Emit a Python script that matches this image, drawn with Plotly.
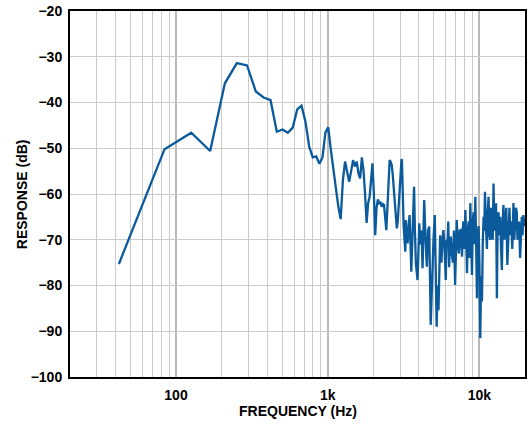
import plotly.graph_objects as go

# ---- data ----
low_freq_hz = [42, 84, 126, 168, 210, 252, 294, 336, 378, 420, 462, 504, 546, 588,
               630, 672, 714, 756, 798, 840, 882, 924, 966, 1008, 1050, 1092, 1134,
               1176, 1218, 1260, 1302]
low_db = [-75.3, -50.2, -46.6, -50.6, -35.8, -31.4, -31.9, -37.6, -38.9, -39.5, -46.4,
          -45.9, -46.6, -45.5, -41.5, -40.7, -44.2, -49.7, -52.0, -51.8, -53.4, -52.0,
          -46.6, -45.4, -50.4, -55.0, -59.8, -62.8, -65.5, -57.0, -52.9]

mid_freq_hz = [1344, 1386, 1428, 1470, 1512, 1554, 1596, 1638, 1680, 1722, 1764, 1806,
               1848, 1890, 1932, 1974, 2016, 2058, 2100, 2142, 2184, 2226, 2268, 2310,
               2352, 2394, 2436, 2478, 2520, 2562, 2604, 2646, 2688, 2730, 2772, 2814,
               2856, 2898, 2940, 2982, 3024, 3066]
mid_db = [-55.5, -57.3, -55.0, -52.6, -54.0, -52.9, -55.5, -56.6, -52.0, -54.8, -60.0,
          -66.3, -62.0, -60.6, -57.0, -53.3, -60.0, -69.0, -63.0, -61.2, -62.0, -61.7,
          -62.8, -62.2, -62.4, -64.5, -67.9, -62.8, -57.0, -52.6, -53.0, -53.7, -56.0,
          -59.1, -62.0, -65.0, -67.5, -66.0, -62.0, -58.4, -55.0, -52.6]

high_freq_hz = [3086, 3168, 3250, 3280, 3320, 3365, 3420, 3468, 3558, 3602, 3650, 3712,
                3760, 3816, 3914, 4016, 4096, 4160, 4222, 4330, 4418, 4506, 4587, 4671,
                4778, 4850, 4910, 4985, 5084, 5160, 5231, 5300, 5377, 5517, 5570, 5627,
                5710, 5799, 5900, 6007, 6080, 6160, 6240, 6321, 6400, 6477, 6580, 6697,
                6800, 6921, 7093, 7200, 7330, 7410, 7498, 7590, 7690, 7770, 7846, 7960,
                8087, 8190, 8294, 8400, 8500, 8610, 8722, 8830, 8945, 9050, 9167, 9290,
                9406, 9520, 9647, 9760, 9887, 10010, 10145, 10270, 10405, 10530, 10663,
                10780, 10890, 11050, 11221, 11360, 11501, 11650, 11800, 11950, 12103,
                12250, 12403, 12560, 12727, 12890, 13052, 13210, 13378, 13550, 13727,
                13900, 14078, 14250, 14427, 14610, 14804, 15050, 15297, 15550, 15797,
                16000, 16209, 16490, 16780, 17000, 17219, 17440, 17659, 17840, 18018,
                18290, 18571, 18810, 19047, 19280, 19519, 19760, 20000]
high_db = [-52.4, -67.0, -72.6, -65.7, -69.0, -70.8, -67.0, -64.6, -77.0, -72.0, -66.0,
           -58.4, -68.0, -75.2, -78.8, -66.4, -71.0, -68.0, -76.2, -61.3, -70.0, -75.9,
           -68.0, -67.1, -88.6, -80.0, -76.0, -70.0, -64.6, -75.0, -89.0, -80.0, -85.4,
           -69.0, -73.0, -75.0, -70.0, -67.9, -72.0, -78.8, -70.0, -71.0, -66.0, -76.0,
           -71.0, -69.3, -73.0, -75.0, -68.0, -79.9, -65.7, -71.0, -73.0, -68.0, -67.9,
           -70.0, -73.7, -68.0, -66.0, -72.0, -63.5, -70.0, -77.3, -68.0, -66.0, -74.0,
           -62.0, -70.0, -77.7, -66.0, -64.0, -71.0, -60.6, -70.0, -82.8, -69.0, -67.0,
           -75.0, -91.5, -78.0, -83.5, -71.0, -65.0, -68.0, -59.5, -67.0, -72.0, -64.0,
           -60.6, -69.0, -70.0, -63.0, -64.0, -70.0, -57.7, -68.0, -66.0, -62.0, -82.8,
           -66.0, -64.0, -69.0, -65.0, -72.0, -76.6, -66.0, -62.4, -70.0, -67.0, -63.0,
           -75.5, -66.0, -63.0, -69.0, -66.0, -72.0, -62.0, -70.0, -67.0, -63.0, -64.0,
           -70.0, -68.0, -66.0, -74.0, -68.0, -65.0, -69.0, -64.6, -67.0, -65.5]

x_tick_vals = [100, 1000, 10000]
x_tick_text = ["100", "1k", "10k"]
x_minor_vals = [30, 40, 50, 60, 70, 80, 90, 200, 300, 400, 500, 600, 700, 800, 900,
                2000, 3000, 4000, 5000, 6000, 7000, 8000, 9000]
y_tick_vals = [-100, -90, -80, -70, -60, -50, -40, -30, -20]

freq_hz = low_freq_hz + mid_freq_hz + high_freq_hz
response_db = low_db + mid_db + high_db

FONT = "Liberation Sans, Arial, sans-serif"

fig = go.Figure()
fig.add_trace(go.Scatter(x=freq_hz, y=response_db, mode="lines",
                         line=dict(color="#0a5a9c", width=2.3), showlegend=False,
                         hoverinfo="skip"))

fig.update_layout(
    width=528, height=430,
    margin=dict(l=70, r=1, t=11, b=53),
    paper_bgcolor="white", plot_bgcolor="white",
    font=dict(family=FONT, size=14, color="black"),
    xaxis=dict(type="log", range=[1.30103, 4.30103],
               tickvals=x_tick_vals, ticktext=x_tick_text,
               tickfont=dict(family=FONT, size=14, color="black", weight="bold"),
               showgrid=True, gridcolor="#b9b9b9", gridwidth=2,
               minor=dict(tickvals=x_minor_vals, showgrid=True, gridcolor="#cbcbcb",
                          gridwidth=1.3, ticks=""),
               showline=True, linecolor="black", linewidth=2, mirror=True,
               ticks="", ticklabelstandoff=4, zeroline=False),
    yaxis=dict(range=[-100, -20], tickvals=y_tick_vals,
               tickfont=dict(family=FONT, size=14, color="black", weight="bold"),
               showgrid=True, gridcolor="#cbcbcb", gridwidth=1.3,
               showline=True, linecolor="black", linewidth=2, mirror=True,
               ticks="", ticklabelstandoff=3, zeroline=False),
    annotations=[
        dict(text="<b>FREQUENCY (Hz)</b>", xref="paper", yref="paper",
             x=0.501, y=-0.093, showarrow=False,
             font=dict(family=FONT, size=14, color="black"),
             xanchor="center", yanchor="middle"),
        dict(text="<b>RESPONSE (dB)</b>", xref="paper", yref="paper",
             x=-0.105, y=0.5, showarrow=False, textangle=-90,
             font=dict(family=FONT, size=14, color="black"),
             xanchor="center", yanchor="middle"),
    ],
)

fig.write_html(
    "out.html",
    config={"displayModeBar": False},
    post_script="document.body.style.margin='0';"
                "document.documentElement.style.overflow='hidden';",
)
